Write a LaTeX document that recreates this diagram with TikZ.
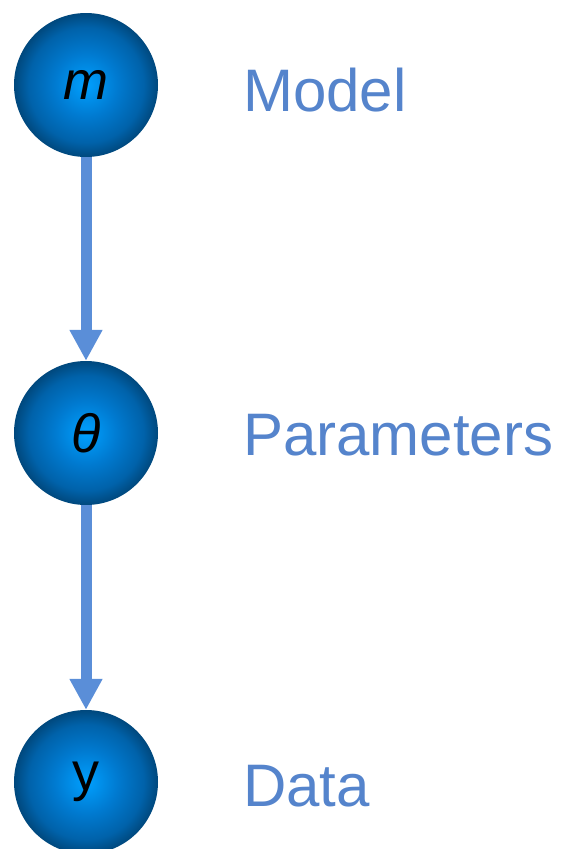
\documentclass[tikz,border=0pt]{standalone}
\usepackage{fontspec}
\setmainfont{Liberation Sans}
\usetikzlibrary{arrows.meta}
\definecolor{labelblue}{RGB}{85,132,204}
\definecolor{arrowblue}{RGB}{90,142,216}
\definecolor{ballA}{RGB}{0,160,255}
\definecolor{ballB}{RGB}{0,122,208}
\definecolor{ballC}{RGB}{0,98,170}
\definecolor{ballD}{RGB}{0,72,125}
\pgfdeclareradialshading{ballshade}{\pgfpoint{0bp}{0bp}}{%
  color(0bp)=(ballA); color(11bp)=(ballB); color(20bp)=(ballC); color(25bp)=(ballD); color(50bp)=(ballD)}
\tikzset{
  varnode/.style={circle, minimum size=144pt, inner sep=0pt, shading=ballshade,
    font=\fontsize{54}{58}\selectfont, text=black},
  labeltext/.style={anchor=base west, inner sep=0pt, text=labelblue,
    font=\fontsize{60}{64}\selectfont},
  edgearrow/.style={draw=arrowblue, line width=11pt,
    -{Triangle[width=31pt,length=31pt]}, fill=arrowblue}
}
\begin{document}
\begin{tikzpicture}
\useasboundingbox (0pt,0pt) rectangle (563pt,-849pt);
\node[varnode] (m) at (86pt,-85pt) {\itshape m};
\node[varnode] (t) at (86pt,-433pt) {\itshape θ};
\node[varnode] (y) at (86pt,-782pt) {y};
\draw[edgearrow] (m.south) -- (t.north);
\draw[edgearrow] (t.south) -- (y.north);
\node[labeltext] (lm) at (243pt,-111pt) {Model};
\node[labeltext] (lt) at (243pt,-455pt) {Parameters};
\node[labeltext] (ly) at (243pt,-806pt) {Data};
\end{tikzpicture}
\end{document}
